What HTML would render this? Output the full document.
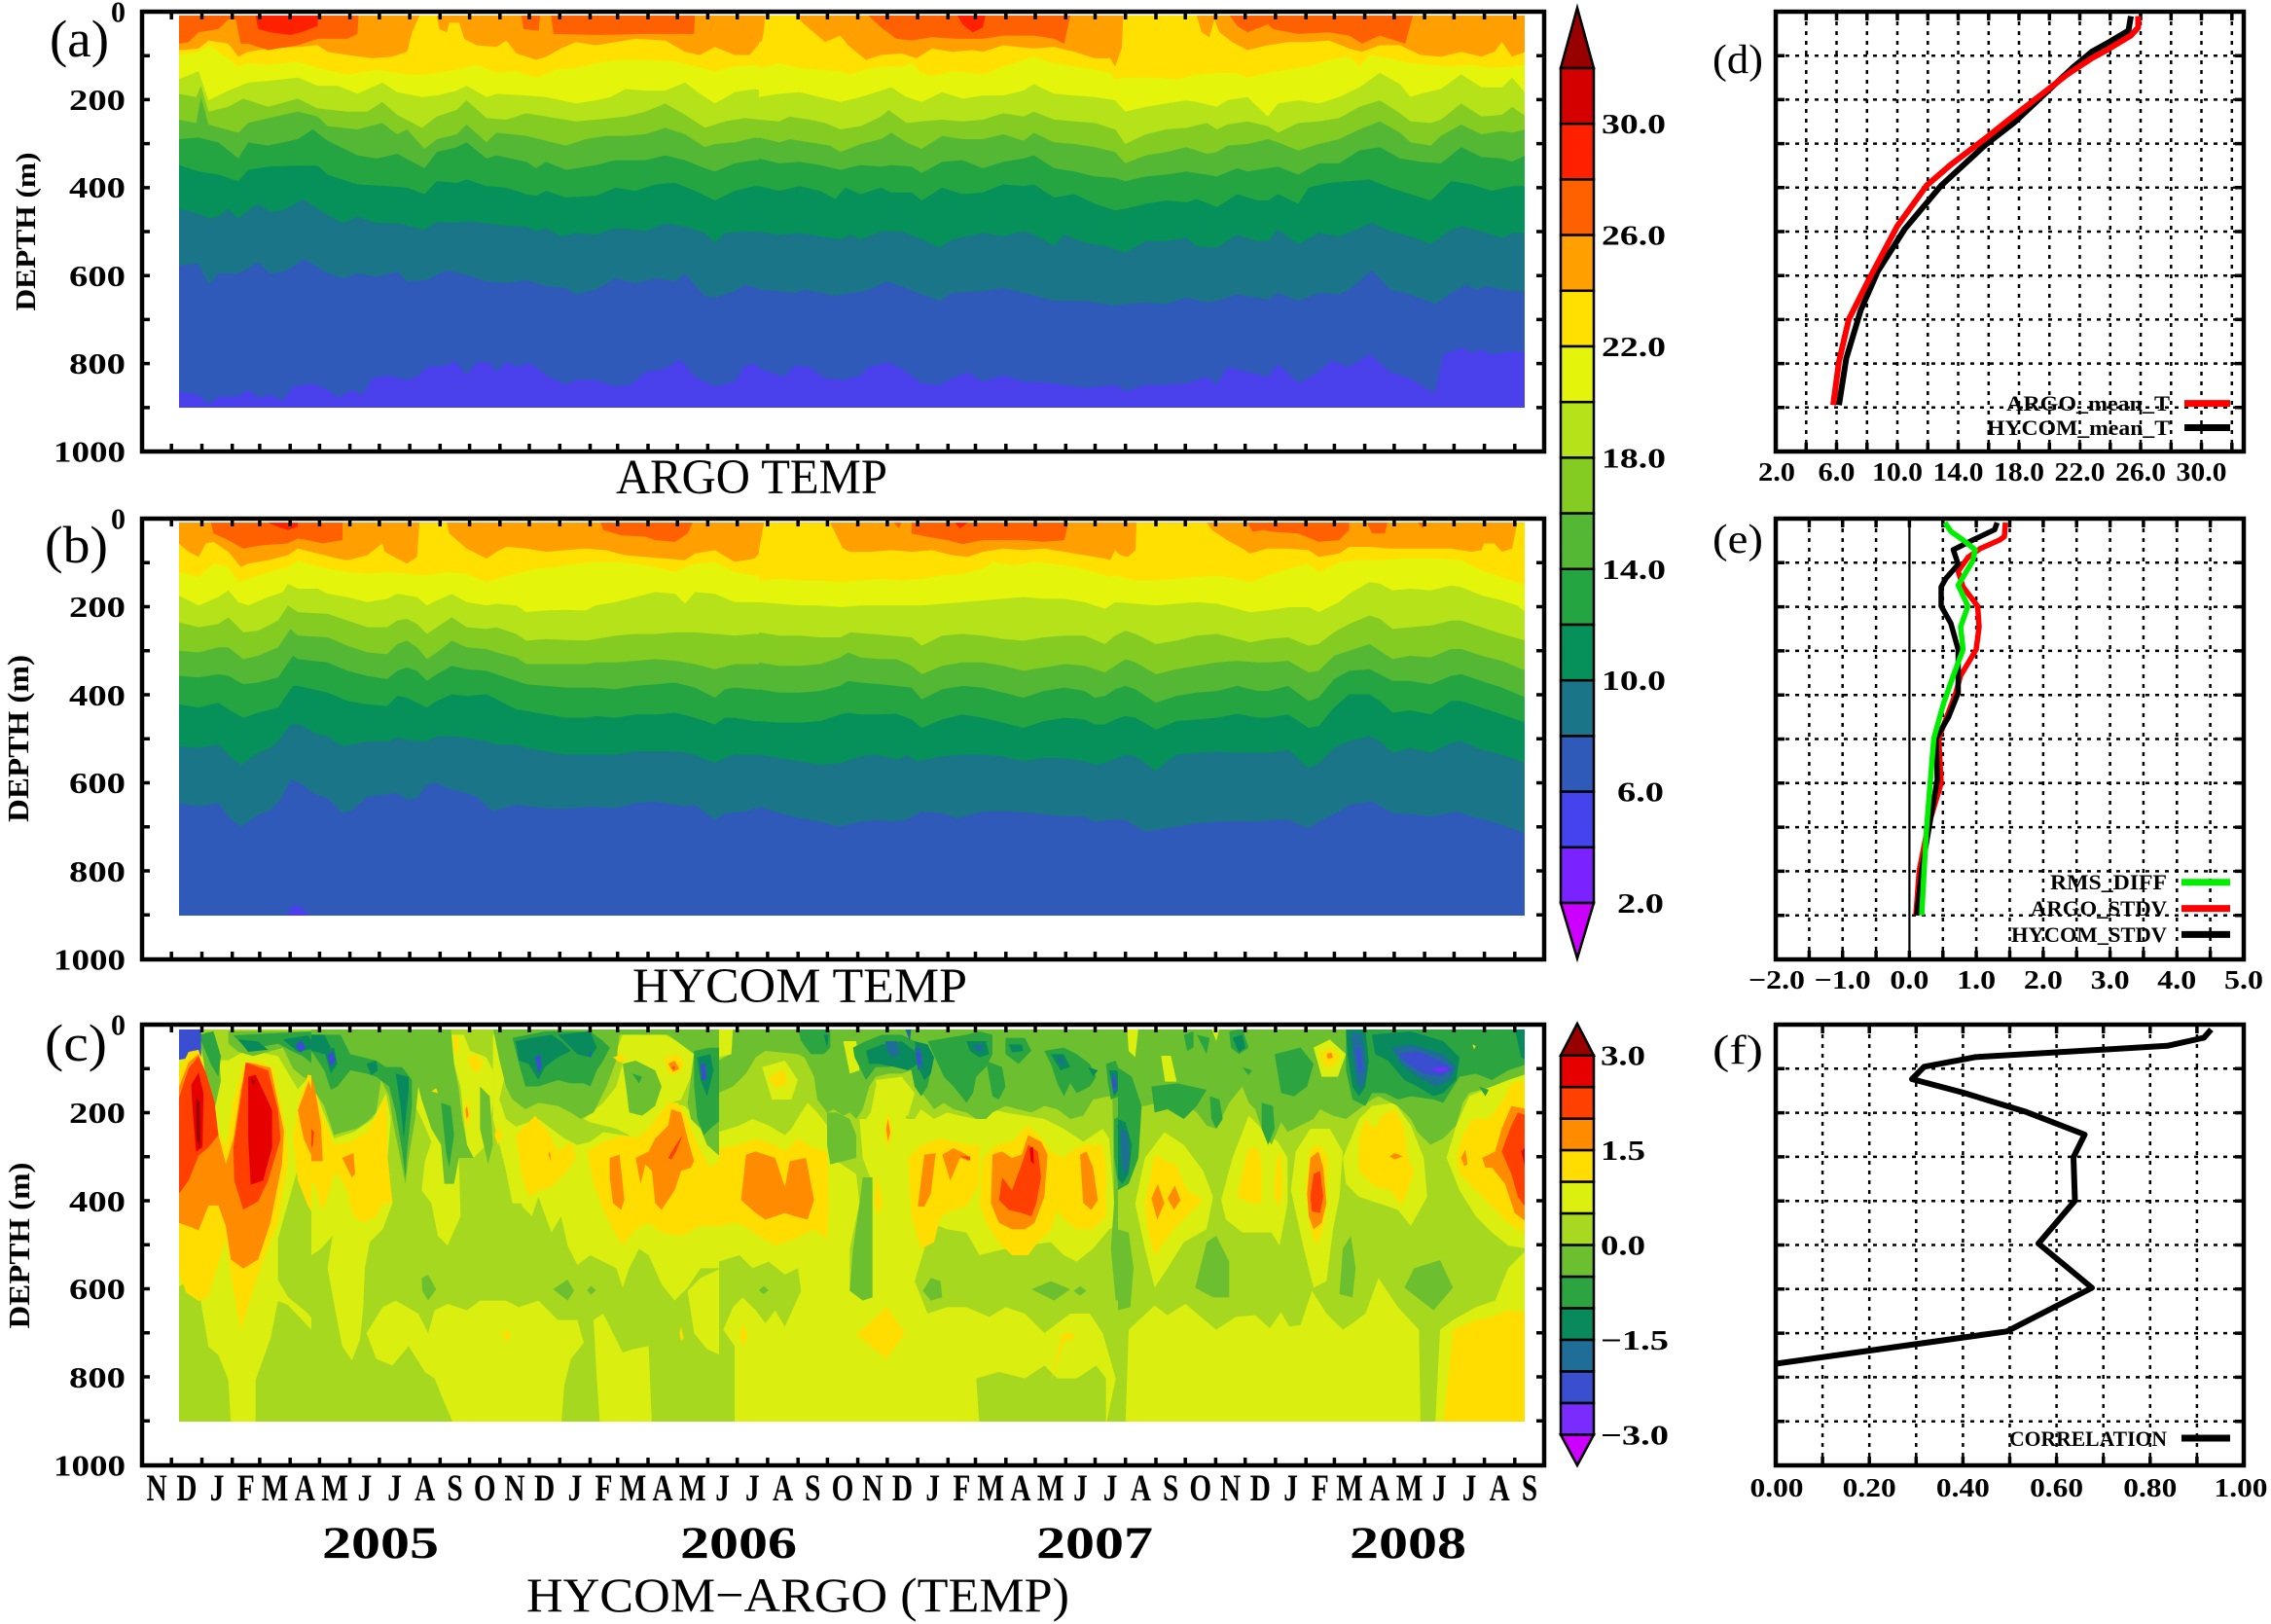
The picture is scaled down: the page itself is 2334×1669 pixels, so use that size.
<!DOCTYPE html>
<html><head><meta charset="utf-8"><style>html,body{margin:0;padding:0;background:#fff}svg{display:block}text{font-family:"Liberation Serif",serif}</style></head><body>
<svg xmlns="http://www.w3.org/2000/svg" xmlns:xlink="http://www.w3.org/1999/xlink" width="2334" height="1669" viewBox="0 0 2334 1669">
<defs>
<clipPath id="ca"><rect x="184" y="16" width="1383" height="403"/></clipPath>
<clipPath id="cb"><rect x="184" y="537" width="1383" height="404"/></clipPath>
<clipPath id="cc"><rect x="184" y="1058" width="1383" height="403"/></clipPath>
<clipPath id="cc2"><rect x="1149" y="1058" width="418" height="403"/></clipPath>
<clipPath id="cc3"><rect x="320" y="1058" width="421" height="403"/></clipPath>
<clipPath id="cc4"><rect x="739" y="1058" width="412" height="403"/></clipPath>
<path id="mt" d="M176.2 0v8M207.5 0v8M238.7 0v8M266.9 0v8M298.2 0v8M328.4 0v8M359.6 0v8M389.9 0v8M421.1 0v8M452.3 0v8M482.6 0v8M513.8 0v8M544 0v8M575.3 0v8M606.5 0v8M634.7 0v8M666 0v8M696.2 0v8M727.4 0v8M757.7 0v8M788.9 0v8M820.2 0v8M850.4 0v8M881.6 0v8M911.9 0v8M943.1 0v8M974.3 0v8M1002.5 0v8M1033.8 0v8M1064 0v8M1095.3 0v8M1125.5 0v8M1156.7 0v8M1188 0v8M1218.2 0v8M1249.4 0v8M1279.7 0v8M1310.9 0v8M1342.2 0v8M1371.4 0v8M1402.6 0v8M1432.9 0v8M1464.1 0v8M1494.4 0v8M1525.6 0v8M1556.8 0v8" stroke="#000" stroke-width="3.5" fill="none"/>
<path id="dt" d="M0 45.25h8M0 90.5h8M0 135.75h8M0 181h8M0 226.25h8M0 271.5h8M0 316.75h8M0 362h8M0 407.25h8" stroke="#000" stroke-width="3.5" fill="none"/>
</defs>
<rect width="2334" height="1669" fill="#fff"/>

<!-- ========== PANEL A ========== -->
<g clip-path="url(#ca)">
<rect x="184" y="16" width="1383" height="403" fill="#ffa000"/>
<g transform="matrix(0.5102 0 0 0.3325 0 0)">
<polygon fill="#ffe000" points="360,155 400,150 420,125 460,135 480,175 500,160 540,150 600,145 640,140 660,160 700,170 750,180 790,175 820,160 830,100 845,48 880,48 885,90 900,100 905,70 925,70 935,120 960,140 1000,145 1020,125 1040,165 1080,185 1100,175 1130,150 1160,130 1200,140 1240,130 1280,120 1340,125 1380,160 1410,170 1440,145 1480,170 1510,170 1535,125 1545,48 1568,48 1575,1270 355,1270"/>
<polygon fill="#e4f40a" points="360,170 400,160 420,140 460,180 480,205 500,195 540,200 600,190 640,210 700,230 760,215 820,230 860,230 920,215 960,200 1000,225 1040,220 1080,240 1120,215 1160,210 1200,195 1240,185 1300,185 1360,190 1400,205 1440,220 1480,205 1520,200 1568,220 1575,1270 355,1270"/>
<polygon fill="#b6e21a" points="360,245 400,220 420,310 460,280 500,255 540,250 600,240 640,265 680,265 720,290 770,255 800,285 850,300 880,295 920,280 940,265 980,300 1000,290 1060,295 1100,300 1160,320 1200,310 1230,300 1260,275 1300,280 1340,280 1380,255 1410,290 1440,320 1480,285 1520,275 1568,290 1575,1270 355,1270"/>
<polygon fill="#84cc22" points="360,290 395,300 405,265 420,345 460,330 490,305 540,330 600,305 640,335 700,345 740,345 770,315 800,355 850,395 880,360 920,340 940,310 980,365 1020,370 1060,350 1100,360 1160,375 1200,370 1260,360 1300,345 1340,320 1380,355 1420,395 1460,375 1500,365 1568,375 1575,1270 355,1270"/>
<polygon fill="#55b835" points="360,370 395,380 405,300 420,385 480,410 500,380 540,365 600,345 640,360 660,390 720,400 770,380 800,415 820,400 855,460 880,430 920,415 940,385 980,440 1000,410 1060,420 1100,435 1140,450 1180,430 1220,420 1260,420 1300,415 1340,395 1380,415 1420,455 1440,445 1480,440 1520,425 1568,435 1575,1270 355,1270"/>
<polygon fill="#25a542" points="360,430 400,425 440,440 480,490 500,440 540,450 600,430 630,400 660,435 720,480 760,490 800,475 855,520 880,470 920,455 940,440 980,490 1000,480 1060,500 1080,520 1100,500 1140,525 1200,510 1240,495 1300,495 1340,480 1380,495 1420,520 1440,530 1480,505 1520,495 1568,495 1575,1270 355,1270"/>
<polygon fill="#06905a" points="360,510 400,530 440,540 480,560 500,525 540,515 600,512 640,512 660,540 720,570 780,575 820,580 855,600 880,560 920,565 940,555 980,575 1020,580 1060,600 1080,605 1100,590 1140,610 1200,605 1240,580 1280,590 1320,570 1360,565 1400,590 1440,620 1480,590 1520,575 1568,580 1575,1270 355,1270"/>
<polygon fill="#1b7589" points="360,645 400,660 420,675 440,670 460,645 480,675 500,650 520,630 545,655 570,650 600,625 610,615 640,645 690,690 720,670 760,690 800,690 855,710 880,685 920,688 940,683 980,690 1020,698 1060,700 1080,715 1100,705 1130,730 1160,720 1200,725 1240,705 1280,710 1300,715 1340,690 1380,700 1420,720 1440,750 1460,720 1500,715 1568,720 1575,1270 355,1270"/>
<polygon fill="#2f5aba" points="360,820 400,815 420,880 440,845 480,845 500,830 520,810 545,845 570,840 600,815 610,800 640,825 660,845 690,860 720,845 760,855 800,840 820,870 860,865 900,835 940,850 980,870 1020,875 1060,865 1100,885 1140,890 1160,910 1200,895 1240,860 1280,875 1320,860 1360,870 1380,845 1420,915 1440,920 1480,900 1500,880 1540,895 1568,900 1575,1270 355,1270"/>
<polygon fill="#4a40ec" points="360,1210 400,1220 420,1250 440,1225 480,1225 500,1205 520,1230 545,1220 570,1240 590,1195 630,1185 660,1205 680,1230 710,1205 730,1220 750,1170 780,1160 820,1175 840,1165 860,1135 900,1130 915,1115 940,1160 960,1120 985,1120 1000,1150 1020,1120 1045,1135 1065,1120 1100,1160 1140,1190 1160,1175 1200,1175 1240,1195 1270,1190 1300,1150 1340,1140 1370,1110 1400,1165 1440,1195 1480,1180 1500,1130 1520,1125 1568,1160 1575,1270 355,1270"/>
<polygon fill="#ff6000" points="355,48 360,135 380,130 400,100 440,90 460,60 475,60 485,135 500,135 540,155 600,140 640,120 700,120 720,105 722,48"/>
<polygon fill="#ff6000" points="1050,48 1055,90 1085,95 1088,48"/>
<polygon fill="#ff6000" points="1110,48 1115,105 1200,108 1300,105 1398,105 1400,48"/>
<polygon fill="#ff2000" points="515,48 520,90 545,100 585,108 610,98 640,80 640,48"/>
</g>
<g transform="matrix(0.523 0 0 0.3325 780 0)">
<polygon fill="#ffe000" points="0,130 8,130 12,48 75,48 85,70 130,130 160,110 175,140 210,185 240,170 280,165 310,180 340,150 380,160 420,155 440,160 480,140 540,150 580,145 620,160 660,180 690,180 700,205 713,150 716,48 860,48 870,100 885,115 895,60 905,100 930,130 960,155 1000,140 1040,130 1080,130 1120,125 1160,150 1185,160 1220,140 1260,140 1300,170 1340,175 1380,160 1420,175 1445,160 1460,130 1480,175 1507,160 1520,1270 0,1270"/>
<polygon fill="#e4f40a" points="0,210 40,195 80,210 120,215 160,220 180,230 210,215 240,205 280,205 300,195 320,225 340,235 380,220 420,225 440,230 480,205 520,185 540,175 580,195 620,205 660,215 690,225 700,245 720,240 780,240 820,245 860,230 900,225 940,225 960,240 1000,225 1040,215 1080,205 1120,185 1160,175 1180,205 1200,170 1240,180 1280,195 1320,200 1360,205 1400,200 1440,210 1480,205 1507,200 1520,1270 0,1270"/>
<polygon fill="#b6e21a" points="0,300 40,290 80,285 120,300 160,315 200,300 240,280 260,270 290,300 320,315 360,285 400,305 440,295 480,295 520,280 540,260 580,290 620,295 660,300 700,310 720,345 760,330 800,320 840,310 860,315 900,330 920,310 960,300 1000,360 1020,320 1060,310 1100,320 1140,300 1180,270 1220,225 1260,260 1280,300 1300,290 1340,275 1380,230 1420,270 1460,270 1480,240 1507,290 1520,1270 0,1270"/>
<polygon fill="#84cc22" points="0,370 40,375 60,360 100,370 130,380 160,400 200,390 240,360 255,340 290,380 320,375 360,370 400,375 440,370 480,350 520,360 540,345 580,370 620,375 660,380 700,400 720,445 760,415 800,400 840,395 880,380 900,400 920,385 960,375 1000,390 1020,410 1060,380 1100,375 1140,365 1180,330 1220,310 1260,350 1280,375 1320,380 1340,370 1380,320 1420,360 1460,355 1480,330 1507,360 1520,1270 0,1270"/>
<polygon fill="#55b835" points="0,425 40,440 60,430 100,440 140,450 160,470 200,445 240,430 260,410 290,440 320,460 360,420 400,430 440,430 480,415 520,435 540,410 580,440 620,445 660,455 700,470 720,505 760,480 800,470 840,455 880,475 900,470 920,450 960,445 1000,430 1020,440 1060,465 1100,445 1140,430 1180,400 1220,375 1260,410 1280,440 1320,450 1340,420 1380,385 1420,415 1460,405 1480,410 1507,400 1520,1270 0,1270"/>
<polygon fill="#25a542" points="0,490 40,505 80,500 120,510 160,525 200,510 240,515 260,510 300,515 320,535 360,500 400,495 440,520 480,500 520,490 540,480 580,520 620,530 660,545 700,550 720,560 760,545 800,540 840,530 880,540 900,545 940,520 960,530 1000,520 1020,515 1060,540 1100,505 1140,505 1180,465 1220,455 1260,490 1300,500 1340,505 1380,455 1420,485 1460,490 1480,500 1507,480 1520,1270 0,1270"/>
<polygon fill="#06905a" points="0,575 40,590 80,575 120,590 150,615 170,580 200,600 240,580 260,595 300,595 320,620 360,580 400,600 440,595 480,570 520,575 540,570 580,610 620,600 660,630 700,650 720,645 760,630 800,620 840,625 860,615 900,640 940,600 980,620 1000,620 1020,600 1060,630 1080,580 1120,565 1160,560 1200,555 1240,580 1280,600 1320,620 1360,560 1400,570 1440,590 1480,575 1507,575 1520,1270 0,1270"/>
<polygon fill="#1b7589" points="0,715 40,725 80,720 120,730 160,740 180,725 200,740 240,715 280,715 320,740 355,765 380,740 440,720 480,730 520,715 540,725 580,760 600,725 640,750 680,760 720,780 760,745 800,745 840,735 860,762 900,765 940,725 980,745 1000,745 1020,710 1060,755 1100,720 1140,730 1180,705 1205,688 1240,715 1280,730 1320,755 1360,710 1380,700 1420,715 1460,735 1480,720 1507,720 1520,1270 0,1270"/>
<polygon fill="#2f5aba" points="0,895 40,900 70,905 90,895 120,905 150,915 180,905 210,900 250,870 280,885 320,910 355,930 380,905 440,900 480,890 520,905 580,930 640,930 700,945 720,940 760,935 800,940 840,920 880,935 900,930 940,910 1000,925 1020,905 1060,930 1100,905 1140,910 1160,895 1205,835 1240,895 1280,910 1330,940 1360,905 1390,880 1410,895 1430,885 1480,900 1507,900 1520,1270 0,1270"/>
<polygon fill="#4a40ec" points="0,1140 20,1150 50,1165 70,1130 100,1135 130,1170 170,1175 200,1160 215,1135 255,1120 280,1140 320,1185 355,1190 380,1170 410,1150 440,1180 480,1160 520,1180 580,1185 640,1200 700,1190 720,1210 760,1190 800,1190 840,1185 880,1165 900,1190 920,1135 960,1150 1000,1165 1020,1125 1060,1185 1100,1150 1125,1115 1160,1135 1200,1095 1240,1150 1280,1170 1320,1210 1330,1210 1345,1095 1380,1075 1400,1090 1420,1080 1440,1095 1480,1085 1507,1090 1520,1270 0,1270"/>
<polygon fill="#ff6000" points="215,48 240,85 270,120 300,125 340,115 390,120 440,120 480,110 540,110 580,120 600,135 612,48"/>
<polygon fill="#ff6000" points="925,48 940,80 960,100 1000,75 1010,90 1060,105 1120,100 1160,110 1185,135 1220,110 1270,135 1285,48"/>
<polygon fill="#ff2000" points="390,48 400,75 420,100 440,85 445,48"/>
</g>
</g>

<!-- ========== PANEL B ========== -->
<g clip-path="url(#cb)">
<rect x="184" y="537" width="1383" height="404" fill="#ffa000"/>
<g transform="matrix(0.5102 0 0 0.3444 0 500)">
<polygon fill="#ffe000" points="360,170 380,195 400,210 415,170 430,165 460,195 485,240 500,230 540,220 580,205 600,185 640,200 680,215 700,220 740,205 770,170 775,195 800,215 820,230 840,210 845,108 900,108 905,140 940,185 980,215 1000,195 1020,180 1060,185 1100,195 1140,190 1180,185 1220,190 1260,205 1300,210 1340,215 1380,220 1400,200 1440,190 1480,225 1520,215 1540,180 1545,108 1568,108 1575,1290 355,1290"/>
<polygon fill="#e4f40a" points="360,255 400,270 430,230 460,240 480,285 500,275 540,255 580,240 600,220 620,230 660,245 700,255 740,260 780,255 820,260 860,265 900,255 940,260 980,285 1000,275 1040,260 1080,245 1120,240 1160,230 1200,225 1240,225 1280,230 1320,240 1360,255 1380,240 1400,230 1440,225 1480,255 1520,265 1568,270 1575,1290 355,1290"/>
<polygon fill="#b6e21a" points="360,325 400,355 440,330 460,310 480,345 500,355 540,330 570,315 580,290 600,305 640,305 660,320 700,330 740,345 780,335 800,320 840,330 860,355 880,340 910,320 940,345 980,355 1000,350 1040,355 1060,375 1100,370 1140,368 1180,370 1200,355 1240,345 1280,330 1320,315 1360,320 1380,350 1400,315 1440,320 1480,345 1520,345 1568,350 1575,1290 355,1290"/>
<polygon fill="#84cc22" points="360,405 400,420 440,410 460,390 490,435 520,430 560,400 580,355 600,375 660,380 700,400 740,420 780,420 800,400 820,395 840,410 860,440 880,420 910,390 940,420 980,425 1000,420 1040,440 1060,460 1100,455 1140,458 1180,460 1200,455 1240,445 1280,440 1320,440 1360,435 1400,435 1440,440 1480,445 1520,440 1568,440 1575,1290 355,1290"/>
<polygon fill="#55b835" points="360,490 400,495 440,480 460,480 490,515 520,505 560,480 585,425 600,445 660,450 700,475 740,495 780,500 800,470 820,460 840,480 860,515 880,495 910,460 940,480 980,485 1000,495 1040,510 1060,530 1100,530 1140,530 1180,530 1200,525 1240,525 1280,520 1320,515 1360,520 1400,530 1440,545 1480,530 1520,530 1568,535 1575,1290 355,1290"/>
<polygon fill="#25a542" points="360,565 400,570 440,560 460,565 490,590 520,585 560,570 590,505 600,515 660,525 700,550 740,565 780,575 800,550 820,540 840,550 860,580 880,560 910,535 940,545 980,550 1000,560 1040,580 1060,590 1100,595 1140,600 1180,600 1200,600 1240,605 1280,595 1320,590 1360,585 1400,600 1440,630 1460,605 1480,600 1520,605 1568,615 1575,1290 355,1290"/>
<polygon fill="#06905a" points="360,650 400,660 440,645 460,665 490,690 520,675 560,660 590,595 600,595 660,615 700,640 740,650 780,655 800,625 820,630 840,645 860,660 880,640 910,620 940,625 980,620 1000,635 1040,665 1060,670 1100,680 1140,690 1180,690 1200,685 1240,690 1280,680 1320,680 1360,675 1400,690 1440,710 1460,690 1480,690 1520,700 1568,700 1575,1290 355,1290"/>
<polygon fill="#1b7589" points="360,775 400,780 440,770 460,800 485,830 520,795 545,780 560,760 585,710 605,710 640,740 660,745 690,775 740,760 780,760 800,750 840,760 860,760 880,745 910,745 940,750 980,760 1000,770 1040,770 1060,780 1100,790 1140,800 1180,800 1200,800 1240,800 1280,790 1320,790 1360,790 1400,800 1440,825 1460,810 1480,800 1520,800 1568,805 1575,1290 355,1290"/>
<polygon fill="#2f5aba" points="360,945 400,955 440,945 460,985 485,1015 520,980 545,965 565,935 585,875 605,885 630,915 660,930 690,975 710,965 740,925 770,920 800,915 820,935 840,930 860,890 880,885 900,900 940,915 960,925 990,965 1000,965 1040,950 1100,960 1140,962 1190,955 1240,960 1280,945 1320,940 1360,950 1380,955 1400,950 1440,995 1460,975 1500,970 1520,960 1568,965 1575,1290 355,1290"/>
<polygon fill="#4a40ec" points="575,1285 590,1250 605,1252 625,1285"/>
<polygon fill="#ff6000" points="425,108 430,140 460,160 490,185 530,175 580,170 600,155 620,160 650,170 690,160 690,108"/>
<polygon fill="#ff6000" points="1210,108 1215,130 1250,145 1300,150 1320,160 1360,165 1385,140 1395,108"/>
<polygon fill="#ff2000" points="540,108 560,120 580,130 600,120 600,108"/>
</g>
<g transform="matrix(0.523 0 0 0.3444 780 500)">
<polygon fill="#ffe000" points="0,190 10,108 140,108 165,185 180,195 220,195 260,190 300,195 340,190 380,205 410,210 440,195 480,185 520,190 560,185 600,195 640,205 680,215 690,220 700,190 710,205 725,210 740,190 742,108 880,108 890,130 920,160 950,185 965,200 1000,185 1040,185 1080,190 1100,210 1140,200 1160,180 1200,180 1240,185 1280,185 1320,185 1360,185 1400,195 1420,190 1425,170 1445,170 1460,195 1480,185 1490,108 1520,108 1520,1290 0,1290"/>
<polygon fill="#e4f40a" points="0,280 40,275 80,280 120,280 160,285 200,280 240,275 280,280 320,275 360,265 400,260 440,245 460,225 500,235 540,225 580,230 620,240 660,255 690,270 700,265 740,280 780,280 820,275 860,270 900,265 940,275 965,285 1000,265 1040,245 1080,230 1100,255 1140,225 1180,220 1220,220 1260,215 1300,215 1340,215 1380,220 1420,250 1460,270 1507,295 1520,1290 0,1290"/>
<polygon fill="#b6e21a" points="0,345 40,350 80,355 120,355 160,360 200,355 240,355 280,355 320,355 360,350 400,345 440,340 480,335 520,330 560,335 600,335 640,345 680,365 700,345 740,350 780,355 820,350 860,345 900,350 940,365 965,375 1000,370 1040,360 1080,360 1100,375 1140,345 1160,320 1200,285 1220,290 1245,310 1280,305 1320,310 1360,295 1380,300 1420,325 1460,340 1490,355 1507,375 1520,1290 0,1290"/>
<polygon fill="#84cc22" points="0,435 40,445 80,445 120,450 160,450 180,435 220,440 260,445 300,450 320,475 360,445 400,440 440,445 480,455 520,460 560,450 600,445 640,445 680,470 700,445 720,430 740,440 780,470 820,460 860,445 900,440 940,455 965,465 1000,455 1040,450 1080,475 1100,470 1130,435 1160,410 1200,385 1220,395 1245,425 1280,420 1320,415 1360,400 1380,400 1420,420 1460,440 1507,460 1520,1290 0,1290"/>
<polygon fill="#55b835" points="0,525 40,535 80,535 120,530 160,510 175,495 200,510 240,515 270,515 300,535 320,560 360,535 400,525 440,525 480,535 520,550 560,540 600,530 640,535 680,555 700,535 720,515 740,525 780,560 820,545 860,535 900,525 940,520 980,525 1000,525 1040,520 1080,555 1100,550 1130,505 1160,490 1200,470 1220,490 1245,515 1280,505 1320,510 1360,485 1380,485 1420,505 1460,520 1507,550 1520,1290 0,1290"/>
<polygon fill="#25a542" points="0,605 40,615 80,615 120,610 160,595 175,580 200,585 240,590 270,595 300,600 320,635 360,605 400,595 440,600 480,615 520,630 560,610 600,600 640,610 660,630 680,625 700,605 720,595 740,605 780,645 820,625 860,615 900,610 940,595 980,610 1000,610 1040,595 1080,640 1100,630 1130,575 1160,550 1200,545 1220,560 1245,580 1280,580 1320,590 1360,565 1380,560 1420,580 1460,600 1507,630 1520,1290 0,1290"/>
<polygon fill="#06905a" points="0,700 40,705 80,705 120,700 160,680 175,675 200,680 240,680 270,678 300,695 320,720 360,695 400,680 440,690 480,705 520,720 560,700 600,690 640,695 660,710 680,710 700,695 720,685 740,690 780,725 820,700 860,695 900,690 940,678 980,690 1000,690 1040,680 1080,720 1100,715 1130,660 1160,620 1200,620 1220,640 1245,675 1280,668 1320,680 1360,640 1380,640 1420,660 1460,680 1507,705 1520,1290 0,1290"/>
<polygon fill="#1b7589" points="0,800 40,810 80,820 120,830 160,825 200,805 230,800 260,810 275,815 290,800 310,820 360,805 400,800 440,800 480,805 520,820 560,810 600,810 640,820 660,830 680,825 720,800 740,805 780,848 820,800 860,795 900,790 940,795 980,795 1000,795 1040,785 1080,840 1100,825 1130,780 1160,760 1200,745 1220,760 1245,795 1280,780 1320,795 1360,765 1380,760 1420,785 1460,800 1507,825 1520,1290 0,1290"/>
<polygon fill="#2f5aba" points="0,955 40,975 80,990 120,1000 155,1015 200,1000 230,995 260,1000 290,995 320,970 360,975 390,990 440,970 480,968 540,975 580,982 640,985 660,1000 690,995 720,995 760,1030 800,1020 860,1005 900,1000 940,998 980,1000 1020,993 1040,995 1080,1020 1100,1000 1140,970 1160,950 1205,940 1245,975 1280,978 1320,985 1370,970 1400,985 1440,1000 1507,1035 1520,1290 0,1290"/>
<polygon fill="#ff6000" points="300,108 300,140 330,150 370,160 400,172 440,160 480,160 520,160 560,165 600,160 608,108"/>
<polygon fill="#ff6000" points="265,108 275,125 280,108"/>
<polygon fill="#ff6000" points="960,108 970,135 990,130 1010,135 1060,140 1100,165 1140,160 1160,130 1160,108"/>
<polygon fill="#ff6000" points="1195,108 1205,140 1230,140 1235,108"/>
<polygon fill="#ff6000" points="1295,108 1305,125 1310,108"/>
<polygon fill="#ff2000" points="385,108 395,125 410,108"/>
</g>
</g>

<!-- ========== PANEL C ========== -->
<g clip-path="url(#cc)">
<rect x="184" y="1058" width="1383" height="403" fill="#daee10"/>
<g transform="matrix(0.5102 0 0 0.4266 0 1000)">
<g fill="#a6d820">
<polygon points="360,135 1568,135 1568,320 1520,300 1490,330 1460,420 1420,400 1400,300 1360,230 1320,300 1280,300 1250,420 1220,430 1200,500 1170,620 1140,560 1130,450 1110,420 1080,380 1040,400 1010,300 1000,450 985,560 970,620 940,560 920,600 890,620 870,560 850,620 820,600 800,560 790,450 780,300 760,270 730,330 700,420 680,380 660,280 630,240 600,280 580,240 560,200 520,190 490,190 460,210 430,210 420,200 400,180 380,170 360,175"/>
<polygon points="560,640 600,470 630,560 660,480 690,560 740,600 780,540 860,600 940,600 1000,520 1040,600 1100,560 1130,450 1160,620 1200,640 1240,690 1280,620 1320,630 1380,600 1420,560 1460,580 1500,590 1568,600 1568,800 1520,760 1480,900 1440,820 1400,860 1360,850 1300,810 1240,780 1200,820 1140,840 1100,780 1060,780 1000,790 960,760 900,800 860,800 820,820 800,850 770,860 760,920 720,930 690,880 660,880 620,820 580,780 560,740"/>
<polygon points="355,760 380,740 400,760 420,900 440,920 460,980 465,1085 355,1085"/>
<polygon points="515,1085 515,980 545,880 560,790 580,800 620,850 660,900 690,930 710,940 740,950 760,930 780,980 820,990 860,970 900,1030 940,1085"/>
</g>
<g fill="#6cc030">
<polygon points="400,150 420,140 440,190 445,260 430,340 420,300 410,210"/>
<polygon points="460,140 700,140 700,180 660,250 640,270 610,250 590,230 570,180 540,190 510,200 480,190 460,170"/>
<polygon points="640,140 860,140 850,200 830,300 820,430 800,350 780,260 740,250 700,300 690,350 670,270 650,230"/>
</g>
<g fill="#2ca540">
<polygon points="400,150 430,140 445,200 440,250 425,220"/>
<polygon points="470,150 640,140 660,200 640,230 610,200 590,190 560,170 520,180 490,175"/>
</g>
<g fill="#088a5c">
<polygon points="570,160 620,150 640,180 600,190"/>
<polygon points="480,160 520,165 540,185 500,190"/>
</g>
<g fill="#3a4ed0">
<polygon points="355,135 405,135 405,200 355,210"/>
<polygon points="595,175 605,162 617,180 605,192"/>
</g>
<g fill="#ffdd00">
<polygon points="355,250 380,190 400,185 420,260 440,380 455,420 470,310 490,220 520,210 550,230 575,370 580,450 560,600 530,690 500,800 485,860 470,760 455,640 440,700 420,780 400,790 375,770 355,700"/>
<polygon points="590,400 600,320 620,245 645,250 660,400 655,520 640,600 620,560 600,500"/>
</g>
<g fill="#ff8c00">
<polygon points="355,290 380,215 400,195 420,270 440,390 455,460 470,400 485,280 500,215 545,228 572,380 568,460 545,600 520,690 490,712 465,690 455,610 440,560 420,560 400,620 380,610 355,600"/>
<polygon points="600,330 622,260 640,330 650,450 632,452 612,400"/>
</g>
<g fill="#ff4000">
<polygon points="355,320 380,230 400,200 415,240 432,310 440,390 420,420 400,440 380,500 355,540"/>
<polygon points="470,420 485,300 495,215 540,235 560,330 565,400 540,500 520,550 490,570 472,500"/>
</g>
<g fill="#e60000">
<polygon points="385,270 400,240 410,290 408,420 395,430 388,330"/>
<polygon points="500,250 515,245 548,330 548,420 530,500 505,510 500,400"/>
</g>
<g fill="#990000">
<polygon points="395,300 402,310 403,420 396,400"/>
<polygon points="505,255 515,260 510,270"/>
</g>
</g>
</g>

<!-- overlay (c) x 320-740 -->
<g clip-path="url(#cc3)">
<g transform="matrix(0.33333 0 0 0.33333 320 1050)">
<rect x="0" y="20" width="1265" height="1225" fill="#a6d820"/>
<g fill="#daee10">
<polygon points="0,180 30,260 70,360 130,340 190,300 230,220 245,300 235,420 250,560 220,640 180,680 165,760 160,880 150,980 125,1045 95,1000 70,870 50,760 65,660 30,700 0,720"/>
<polygon points="330,180 370,160 400,170 430,200 440,260 430,340 455,420 460,600 420,690 390,660 370,560 340,520 350,430 370,370 340,300 320,260"/>
<polygon points="430,40 470,40 490,90 540,110 560,150 560,250 540,380 500,420 480,380 470,300 460,200 440,130"/>
<polygon points="560,40 620,40 600,150 580,240 600,300 640,330 650,500 660,560 620,560 600,460 580,380 560,300"/>
<polygon points="960,40 1090,40 1180,90 1170,170 1140,240 1110,250 1080,290 1060,330 1040,360 1000,370 980,350 940,330 900,320 860,310 840,300 900,250 940,200 960,130 940,90"/>
<polygon points="600,340 640,320 700,300 740,330 780,360 820,380 860,370 900,340 960,350 1040,360 1100,250 1150,260 1190,300 1220,380 1265,420 1265,760 1200,760 1160,820 1120,860 1080,810 1040,720 1010,700 980,760 960,820 940,760 900,740 860,720 820,750 790,690 770,600 740,650 700,540 680,600 650,570"/>
<polygon points="170,960 220,880 260,860 330,900 360,960 380,890 420,870 480,890 520,860 600,860 640,880 700,860 760,920 820,920 840,990 800,1040 780,1120 770,1245 440,1245 400,1150 380,1100 350,1080 300,1000 250,1060 200,1040"/>
<polygon points="870,920 900,900 930,960 960,1020 990,1010 1040,1000 1050,1245 890,1245 880,1100"/>
<polygon points="1160,830 1200,790 1265,760 1265,1030 1220,1010 1180,960"/>
</g>
<g fill="#6cc030">
<polygon points="0,20 430,20 440,130 455,210 465,300 480,380 500,420 455,420 440,500 410,500 400,380 370,330 340,240 330,200 320,300 300,420 290,500 270,400 250,300 240,230 215,180 200,280 170,310 140,330 100,340 70,350 40,260 0,200"/>
<polygon points="560,20 1265,20 1265,420 1220,380 1200,330 1170,300 1160,250 1180,100 1100,40 950,40 940,120 910,200 870,280 830,300 800,280 760,260 700,250 660,270 620,240 600,200 580,120"/>
<polygon points="520,200 550,230 560,380 545,440 520,330"/>
<polygon points="960,130 1000,120 1060,150 1080,200 1060,260 1020,290 980,280 970,200"/>
<polygon points="340,790 360,780 385,825 360,860 342,830"/>
<polygon points="745,825 790,795 810,830 790,860"/>
<polygon points="850,828 862,815 878,828 862,842"/>
</g>
<g fill="#2ca540">
<polygon points="0,40 90,40 120,100 160,110 200,120 230,140 280,140 310,180 310,260 295,400 290,480 280,400 260,280 240,200 200,170 170,160 120,150 80,200 60,210 40,150 0,90"/>
<polygon points="620,50 720,30 780,30 860,30 900,60 920,80 900,120 880,150 860,200 840,190 800,190 760,180 700,200 660,200 640,130"/>
<polygon points="1180,90 1230,80 1265,80 1265,300 1230,330 1210,350 1190,300 1180,200"/>
<polygon points="400,250 430,260 440,350 425,450 415,400"/>
<polygon points="990,160 1020,170 1010,190"/>
</g>
<g fill="#088a5c">
<polygon points="0,40 40,40 60,80 40,100 0,90"/>
<polygon points="40,90 70,80 80,130 60,160"/>
<polygon points="260,160 300,170 300,210 285,360 275,260"/>
<polygon points="630,60 680,50 740,40 770,60 800,90 760,110 720,140 700,180 670,130 640,120"/>
<polygon points="760,40 860,30 880,80 860,110 820,100"/>
<polygon points="1190,110 1230,100 1240,150 1220,230 1200,180"/>
<polygon points="170,130 200,120 205,150 185,165"/>
</g>
<g fill="#3a4ed0">
<polygon points="50,105 65,90 75,120 60,140"/>
<polygon points="690,110 705,100 710,140 700,160"/>
<polygon points="855,95 862,95 862,115"/>
<polygon points="1200,130 1215,130 1218,180 1205,180"/>
</g>
<g fill="#ffdd00">
<polygon points="0,180 20,240 40,300 70,380 120,370 170,340 200,290 230,230 235,420 250,560 220,560 200,600 160,620 130,600 110,520 90,480 70,470 45,560 30,580 10,500 0,500"/>
<polygon points="440,40 455,50 450,100 440,90"/>
<polygon points="480,110 510,100 530,130 510,160 490,140"/>
<polygon points="470,280 480,240 492,290 480,330"/>
<polygon points="565,350 575,320 590,350 575,380"/>
<polygon points="630,350 690,290 730,340 760,400 800,370 815,420 780,470 740,510 700,520 670,540 650,480"/>
<polygon points="850,400 900,370 960,350 1000,360 1040,330 1100,250 1130,250 1160,300 1190,380 1230,450 1265,420 1265,630 1200,630 1140,660 1080,650 1040,620 1000,640 960,690 930,640 900,580 870,500"/>
<polygon points="1090,110 1130,100 1150,130 1130,160 1100,160"/>
<polygon points="590,960 605,950 615,975 600,985"/>
<polygon points="1135,960 1140,940 1148,975 1140,985"/>
<polygon points="370,215 385,205 390,220"/>
<polygon points="930,110 960,100 970,120 950,125"/>
</g>
<g fill="#ff8c00">
<polygon points="0,170 10,200 30,320 35,430 0,430"/>
<polygon points="95,420 130,405 135,470 125,480"/>
<polygon points="920,420 950,410 960,500 965,550 955,580 930,560 920,480"/>
<polygon points="1000,420 1040,400 1060,360 1100,320 1110,270 1140,280 1160,360 1180,430 1170,450 1140,460 1120,520 1080,580 1060,560 1050,460 1030,440 1015,500"/>
<polygon points="1100,130 1120,120 1135,145 1115,155"/>
<polygon points="475,270 480,260 485,290 478,300"/>
<polygon points="730,410 735,400 740,430"/>
</g>
<g fill="#ff4000">
<polygon points="0,330 8,340 5,380 0,390"/>
<polygon points="1100,420 1130,370 1145,350 1125,400 1110,425"/>
<polygon points="1110,140 1120,138 1120,150"/>
</g>
</g>
</g>

<!-- overlay (c) x 740-1150 -->
<g clip-path="url(#cc4)">
<g transform="matrix(0.33333 0 0 0.33333 740 1050)">
<rect x="-5" y="20" width="1270" height="1225" fill="#daee10"/>
<g fill="#a6d820">
<polygon points="-5,20 1265,20 1265,640 1215,560 1200,360 1180,330 1120,370 1060,330 1000,300 940,290 880,280 840,270 790,300 740,290 700,280 660,300 620,270 600,300 575,300 560,250 520,200 480,200 465,280 450,300 430,300 440,420 470,500 470,850 400,830 400,700 430,560 420,470 360,430 330,320 300,280 270,250 250,280 220,330 200,350 150,320 100,300 60,320 30,330 -5,340"/>
<polygon points="-5,740 60,720 100,760 150,740 200,780 240,760 250,830 200,940 170,890 140,930 110,890 70,850 40,880 10,950 45,1000 45,1245 -5,1245"/>
<polygon points="600,800 630,700 650,620 700,640 760,650 800,720 880,700 940,690 1020,680 1060,720 1100,740 1150,700 1200,640 1265,600 1265,1245 1190,1245 1220,1100 1180,960 1140,900 1080,900 1000,960 940,900 880,880 830,910 760,880 700,880 640,900"/>
<polygon points="800,1245 790,1100 860,1080 940,1100 1000,1060 1040,1100 1100,1100 1160,1060 1190,1100 1190,1245"/>
</g>
<g fill="#6cc030">
<polygon points="40,20 1265,20 1265,250 1200,230 1150,240 1120,290 1080,300 1040,270 1000,260 960,280 920,270 880,260 840,280 820,300 790,300 760,280 720,270 690,250 660,270 630,230 600,200 590,150 560,160 520,160 480,170 460,200 440,270 420,300 400,280 380,290 350,270 330,280 300,240 290,170 260,110 240,100 140,90 110,110 80,160 40,200 -5,220 -5,120 30,100"/>
<polygon points="330,280 360,280 400,300 420,350 420,420 380,430 340,440 330,380"/>
<polygon points="400,830 410,700 430,560 440,480 470,480 470,850 440,860"/>
<polygon points="1210,240 1265,200 1265,850 1220,860 1205,700 1215,560"/>
<polygon points="625,830 650,790 680,800 685,850 650,860"/>
<polygon points="960,825 1020,800 1080,825 1030,860"/>
<polygon points="1090,830 1110,815 1130,830 1110,845"/>
<polygon points="120,828 135,815 150,828 135,840"/>
</g>
<g fill="#daee10">
<polygon points="-5,20 40,20 35,100 -5,110"/>
<polygon points="130,140 200,120 240,180 220,240 160,240"/>
<polygon points="380,60 420,60 430,150 400,160"/>
<polygon points="480,180 560,170 600,220 580,290 520,290 490,260"/>
</g>
<g fill="#2ca540">
<polygon points="240,20 340,20 340,80 320,100 280,100 250,60"/>
<polygon points="410,80 450,60 500,40 560,40 600,60 640,90 650,150 640,200 620,230 600,200 590,150 560,130 520,140 480,140 450,180 430,140 415,110"/>
<polygon points="640,60 700,50 760,40 800,30 840,40 840,100 820,140 790,170 780,220 760,250 720,200 690,170"/>
<polygon points="820,120 870,140 880,200 860,240 840,230"/>
<polygon points="880,50 940,50 960,90 920,130 880,100"/>
<polygon points="1000,90 1060,80 1100,100 1140,130 1160,170 1140,200 1100,220 1080,190 1060,230 1040,190 1020,130"/>
<polygon points="1190,130 1220,120 1240,180 1230,230 1205,240 1195,180"/>
<polygon points="1215,300 1250,280 1265,300 1265,520 1230,520 1215,420"/>
</g>
<g fill="#088a5c">
<polygon points="450,90 500,70 560,60 600,90 610,130 580,150 540,140 490,130 460,130"/>
<polygon points="600,60 640,70 660,110 650,160 630,180 610,140"/>
<polygon points="760,60 820,60 830,100 800,110 770,90"/>
<polygon points="890,70 930,70 935,90 900,95"/>
<polygon points="1020,100 1060,100 1080,140 1050,150"/>
<polygon points="1135,140 1165,150 1150,170"/>
<polygon points="1200,150 1225,150 1235,200 1215,230"/>
<polygon points="1225,320 1255,310 1265,470 1240,450"/>
<polygon points="320,40 335,40 330,80"/>
</g>
<g fill="#1f6e98">
<polygon points="510,60 545,60 555,100 530,110 515,90"/>
<polygon points="570,20 590,20 585,60"/>
<polygon points="600,80 620,80 625,140 610,150"/>
<polygon points="785,70 810,70 810,90 790,90"/>
<polygon points="1040,110 1060,115 1055,140"/>
<polygon points="1205,160 1222,165 1225,215 1212,220"/>
<polygon points="1240,340 1258,340 1258,450 1245,440"/>
</g>
<g fill="#3a4ed0">
<polygon points="605,95 618,95 620,130 610,135"/>
<polygon points="1208,175 1220,178 1220,205 1212,208"/>
</g>
<g fill="#ffdd00">
<polygon points="-5,390 60,380 110,360 170,380 200,400 240,360 290,390 330,400 335,560 330,670 290,640 230,670 170,690 120,660 60,620 -5,630"/>
<polygon points="150,175 195,145 210,190 170,205"/>
<polygon points="475,560 485,470 500,560 490,600"/>
<polygon points="505,340 518,280 530,340 518,390"/>
<polygon points="580,420 620,380 650,370 680,360 720,370 760,380 800,380 800,500 760,570 720,580 680,600 660,680 620,700 590,600"/>
<polygon points="810,420 850,380 900,370 950,320 990,360 1020,400 1060,420 1080,400 1120,380 1180,380 1190,450 1190,600 1150,640 1100,640 1060,610 1040,580 1020,640 980,680 950,720 900,720 860,680 820,620 800,560"/>
<polygon points="420,965 515,880 570,960 515,1040"/>
<polygon points="60,965 72,935 85,965 72,1000"/>
<polygon points="1020,1110 1055,960 1090,960 1090,980 1060,985"/>
</g>
<g fill="#ff8c00">
<polygon points="65,550 80,410 110,400 170,420 200,510 215,430 265,420 290,550 270,610 230,600 200,590 140,610 110,590"/>
<polygon points="610,570 630,410 665,405 650,530 630,570"/>
<polygon points="685,410 720,390 760,410 770,430 740,420 710,490"/>
<polygon points="835,560 840,410 870,400 900,420 930,410 950,350 990,370 1010,410 1000,540 970,620 940,640 900,640 860,620"/>
<polygon points="1110,410 1130,400 1150,450 1165,550 1145,580 1120,560"/>
<polygon points="512,330 518,300 525,340 518,370"/>
</g>
<g fill="#ff4000">
<polygon points="860,550 870,480 900,520 930,440 950,380 980,400 990,480 975,560 960,600 930,590 890,580"/>
<polygon points="740,415 770,415 772,428"/>
</g>
<polygon fill="#e60000" points="955,390 965,385 968,440 958,430"/>
</g>
</g>

<!-- overlay (c) x >= 1150 -->
<g clip-path="url(#cc2)">
<g transform="matrix(0.33333 0 0 0.33333 1150 1050)">
<rect x="-5" y="20" width="1265" height="1225" fill="#a6d820"/>
<g fill="#daee10">
<polygon points="20,1245 30,950 110,875 150,905 205,870 300,950 360,910 420,905 465,945 500,895 525,940 560,935 595,830 640,900 690,950 720,930 760,900 800,790 860,880 925,950 930,1245"/>
<polygon points="975,1245 990,950 1030,920 1100,880 1160,860 1200,760 1260,700 1260,1245"/>
<polygon points="50,560 80,420 140,340 200,380 260,460 290,540 270,640 200,680 150,760 110,820 80,700"/>
<polygon points="315,550 350,420 400,290 440,330 490,370 520,420 520,560 495,690 470,650 380,650 330,610"/>
<polygon points="530,520 545,400 590,330 650,330 690,400 680,540 660,640 640,800 600,820 570,700"/>
<polygon points="690,420 740,300 780,260 850,250 900,320 940,420 950,540 900,630 860,580 800,560 740,540 700,500"/>
<polygon points="1010,420 1040,320 1080,230 1150,200 1210,170 1260,160 1260,700 1200,690 1150,650 1100,600 1050,520"/>
</g>
<g fill="#6cc030">
<polygon points="-5,20 1260,20 1260,160 1200,180 1150,200 1080,220 1060,250 1040,320 1000,360 960,380 920,340 900,300 860,260 800,230 780,240 740,270 700,300 660,290 620,270 600,300 560,320 520,340 500,310 470,380 440,330 420,270 400,250 380,200 340,250 300,330 270,320 240,280 200,250 160,240 120,250 80,260 60,260 40,300 20,400 -5,420"/>
<polygon points="-5,640 30,650 45,760 35,880 -5,890"/>
<polygon points="235,820 270,680 300,660 340,740 340,850 290,850"/>
<polygon points="680,840 690,700 715,660 730,760 720,850"/>
<polygon points="880,820 910,760 990,735 1030,820 970,890"/>
</g>
<g fill="#daee10">
<polygon points="25,20 60,20 50,110 30,90"/>
<polygon points="130,105 160,105 178,185 142,185"/>
<polygon points="600,80 650,55 700,100 675,170 625,170"/>
<polygon points="285,20 310,20 300,60"/>
</g>
<g fill="#2ca540">
<polygon points="100,200 180,190 270,210 240,260 200,300 150,270 110,280"/>
<polygon points="-5,140 40,170 70,260 60,420 30,500 -5,520"/>
<polygon points="480,100 560,80 600,130 580,200 540,230 500,220"/>
<polygon points="440,250 475,260 480,330 460,380 440,330"/>
<polygon points="280,230 310,240 320,300 300,330 285,300"/>
<polygon points="200,40 230,30 230,80 210,90"/>
<polygon points="240,40 280,50 270,100"/>
<polygon points="700,20 1260,20 1260,130 1200,150 1150,180 1100,160 1050,170 1000,250 970,240 900,230 860,240 820,220 780,220 760,260 720,240 700,150"/>
<polygon points="340,30 380,20 400,80 370,100 345,80"/>
<polygon points="380,140 410,150 400,165"/>
<polygon points="1070,140 1100,130 1120,150 1100,160"/>
<polygon points="1110,200 1140,210 1130,230"/>
</g>
<g fill="#088a5c">
<polygon points="700,20 760,20 770,120 760,200 740,230 720,200 705,100"/>
<polygon points="780,40 900,30 1000,60 1050,110 1040,180 1000,220 970,230 920,200 880,180 830,120 790,100"/>
<polygon points="-5,300 20,310 40,380 30,470 10,500 -5,480"/>
<polygon points="1220,20 1260,20 1260,120 1240,110"/>
<polygon points="350,50 380,40 390,80 370,95"/>
</g>
<g fill="#1f6e98">
<polygon points="715,30 750,40 765,150 750,210 735,190 720,100"/>
<polygon points="840,80 900,70 1000,100 1040,140 1020,180 980,200 920,170 870,130"/>
<polygon points="5,330 25,340 32,420 20,480 10,440"/>
</g>
<g fill="#3a4ed0">
<polygon points="730,80 745,80 752,150 740,160"/>
<polygon points="860,100 920,90 990,120 1030,145 990,170 940,160 890,130"/>
</g>
<polygon fill="#7a2cff" points="960,145 1000,140 1020,150 990,155"/>
<g fill="#ffdd00">
<polygon points="80,560 110,410 145,430 175,440 210,520 260,550 220,590 170,640 140,680 110,720 90,650"/>
<polygon points="365,540 380,470 400,390 430,390 440,440 440,560 410,560"/>
<polygon points="478,540 485,430 500,400 505,520 495,570"/>
<polygon points="575,520 590,390 620,380 645,420 640,560 630,640 610,690 590,640"/>
<polygon points="740,360 760,300 790,330 810,290 850,270 880,330 890,420 910,460 890,520 870,570 840,520 790,510 740,460"/>
<polygon points="1040,420 1060,350 1090,300 1140,300 1180,250 1210,190 1260,180 1260,660 1200,620 1170,590 1140,560 1110,530 1080,500 1050,470"/>
<polygon points="620,100 650,80 680,105 660,140 635,140"/>
<polygon points="1000,1245 1030,950 1100,920 1150,910 1200,890 1260,895 1260,1245"/>
<polygon points="1090,70 1100,75 1095,85"/>
</g>
<g fill="#ff8c00">
<polygon points="100,545 120,500 140,560 118,610"/>
<polygon points="150,545 172,505 190,550 170,580"/>
<polygon points="580,530 590,420 615,400 630,450 640,560 625,620 600,640 585,600"/>
<polygon points="835,415 850,405 875,415 850,425"/>
<polygon points="1055,420 1068,395 1075,440 1065,445"/>
<polygon points="1120,420 1160,400 1180,330 1210,260 1260,270 1260,620 1220,590 1190,500 1150,450 1130,450"/>
<polygon points="640,100 655,95 660,110 645,115"/>
</g>
<g fill="#ff4000">
<polygon points="590,540 600,470 620,460 630,540 620,590 595,585"/>
<polygon points="1180,400 1210,320 1230,280 1260,290 1260,580 1230,540 1210,470"/>
</g>
<polygon fill="#e60000" points="1240,400 1260,380 1260,480"/>
</g>
</g>

<!-- frames & ticks for a,b,c -->
<g fill="none" stroke="#000" stroke-width="4.5">
<rect x="146" y="12" width="1441" height="452"/>
<rect x="146" y="533" width="1441" height="453"/>
<rect x="146" y="1053" width="1441" height="453"/>
</g>
<use xlink:href="#mt" transform="translate(0,12)"/>
<use xlink:href="#mt" transform="translate(0,464) scale(1,-1)"/>
<use xlink:href="#mt" transform="translate(0,533)"/>
<use xlink:href="#mt" transform="translate(0,986) scale(1,-1)"/>
<use xlink:href="#mt" transform="translate(0,1053)"/>
<use xlink:href="#mt" transform="translate(0,1506) scale(1,-1)"/>
<use xlink:href="#dt" transform="translate(146,12) scale(1,0.999)"/>
<use xlink:href="#dt" transform="translate(1587,12) scale(-1,0.999)"/>
<use xlink:href="#dt" transform="translate(146,533)"/>
<use xlink:href="#dt" transform="translate(1587,533) scale(-1,1)"/>
<use xlink:href="#dt" transform="translate(146,1053)"/>
<use xlink:href="#dt" transform="translate(1587,1053) scale(-1,1)"/>

<!-- y tick labels -->
<g font-size="31" font-weight="bold" text-anchor="end">
<text x="129" y="22.5" textLength="15" lengthAdjust="spacingAndGlyphs">0</text>
<text x="129" y="113" textLength="58" lengthAdjust="spacingAndGlyphs">200</text>
<text x="129" y="203" textLength="58" lengthAdjust="spacingAndGlyphs">400</text>
<text x="129" y="294" textLength="58" lengthAdjust="spacingAndGlyphs">600</text>
<text x="129" y="384" textLength="58" lengthAdjust="spacingAndGlyphs">800</text>
<text x="129" y="474.5" textLength="74" lengthAdjust="spacingAndGlyphs">1000</text>
<text x="129" y="543.5" textLength="15" lengthAdjust="spacingAndGlyphs">0</text>
<text x="129" y="634" textLength="58" lengthAdjust="spacingAndGlyphs">200</text>
<text x="129" y="725" textLength="58" lengthAdjust="spacingAndGlyphs">400</text>
<text x="129" y="815" textLength="58" lengthAdjust="spacingAndGlyphs">600</text>
<text x="129" y="906" textLength="58" lengthAdjust="spacingAndGlyphs">800</text>
<text x="129" y="996.5" textLength="74" lengthAdjust="spacingAndGlyphs">1000</text>
<text x="129" y="1063.5" textLength="15" lengthAdjust="spacingAndGlyphs">0</text>
<text x="129" y="1154" textLength="58" lengthAdjust="spacingAndGlyphs">200</text>
<text x="129" y="1245" textLength="58" lengthAdjust="spacingAndGlyphs">400</text>
<text x="129" y="1335" textLength="58" lengthAdjust="spacingAndGlyphs">600</text>
<text x="129" y="1426" textLength="58" lengthAdjust="spacingAndGlyphs">800</text>
<text x="129" y="1516.5" textLength="74" lengthAdjust="spacingAndGlyphs">1000</text>
</g>
<g font-weight="bold" text-anchor="middle">
<text transform="translate(36,238) rotate(-90)" font-size="29" textLength="163" lengthAdjust="spacingAndGlyphs">DEPTH (m)</text>
<text transform="translate(29,759) rotate(-90)" font-size="31" textLength="172" lengthAdjust="spacingAndGlyphs">DEPTH (m)</text>
<text transform="translate(30,1280) rotate(-90)" font-size="31" textLength="171" lengthAdjust="spacingAndGlyphs">DEPTH (m)</text>
</g>
<g font-size="54">
<text x="51" y="58" textLength="61" lengthAdjust="spacingAndGlyphs">(a)</text>
<text x="46" y="578" textLength="65" lengthAdjust="spacingAndGlyphs">(b)</text>
<text x="46" y="1090" textLength="64" lengthAdjust="spacingAndGlyphs">(c)</text>
</g>
<g font-size="51">
<text x="633" y="507" textLength="279" lengthAdjust="spacingAndGlyphs">ARGO TEMP</text>
<text x="650" y="1030" textLength="344" lengthAdjust="spacingAndGlyphs">HYCOM TEMP</text>
<text x="541" y="1656" font-size="50" textLength="558" lengthAdjust="spacingAndGlyphs">HYCOM−ARGO (TEMP)</text>
</g>

<!-- month labels -->
<g font-size="39" font-weight="bold" text-anchor="middle">
<text transform="translate(161.1,1542) scale(0.75,1)">N</text>
<text transform="translate(191.9,1542) scale(0.75,1)">D</text>
<text transform="translate(223.1,1542) scale(0.75,1)">J</text>
<text transform="translate(252.8,1542) scale(0.75,1)">F</text>
<text transform="translate(282.6,1542) scale(0.75,1)">M</text>
<text transform="translate(313.3,1542) scale(0.75,1)">A</text>
<text transform="translate(344,1542) scale(0.75,1)">M</text>
<text transform="translate(374.8,1542) scale(0.75,1)">J</text>
<text transform="translate(405.5,1542) scale(0.75,1)">J</text>
<text transform="translate(436.7,1542) scale(0.75,1)">A</text>
<text transform="translate(467.5,1542) scale(0.75,1)">S</text>
<text transform="translate(498.2,1542) scale(0.75,1)">O</text>
<text transform="translate(528.9,1542) scale(0.75,1)">N</text>
<text transform="translate(559.7,1542) scale(0.75,1)">D</text>
<text transform="translate(590.9,1542) scale(0.75,1)">J</text>
<text transform="translate(620.6,1542) scale(0.75,1)">F</text>
<text transform="translate(650.4,1542) scale(0.75,1)">M</text>
<text transform="translate(681.1,1542) scale(0.75,1)">A</text>
<text transform="translate(711.8,1542) scale(0.75,1)">M</text>
<text transform="translate(742.6,1542) scale(0.75,1)">J</text>
<text transform="translate(773.3,1542) scale(0.75,1)">J</text>
<text transform="translate(804.6,1542) scale(0.75,1)">A</text>
<text transform="translate(835.3,1542) scale(0.75,1)">S</text>
<text transform="translate(866,1542) scale(0.75,1)">O</text>
<text transform="translate(896.8,1542) scale(0.75,1)">N</text>
<text transform="translate(927.5,1542) scale(0.75,1)">D</text>
<text transform="translate(958.7,1542) scale(0.75,1)">J</text>
<text transform="translate(988.4,1542) scale(0.75,1)">F</text>
<text transform="translate(1018.2,1542) scale(0.75,1)">M</text>
<text transform="translate(1048.9,1542) scale(0.75,1)">A</text>
<text transform="translate(1079.7,1542) scale(0.75,1)">M</text>
<text transform="translate(1110.4,1542) scale(0.75,1)">J</text>
<text transform="translate(1141.1,1542) scale(0.75,1)">J</text>
<text transform="translate(1172.4,1542) scale(0.75,1)">A</text>
<text transform="translate(1203.1,1542) scale(0.75,1)">S</text>
<text transform="translate(1233.8,1542) scale(0.75,1)">O</text>
<text transform="translate(1264.6,1542) scale(0.75,1)">N</text>
<text transform="translate(1295.3,1542) scale(0.75,1)">D</text>
<text transform="translate(1326.6,1542) scale(0.75,1)">J</text>
<text transform="translate(1356.8,1542) scale(0.75,1)">F</text>
<text transform="translate(1387,1542) scale(0.75,1)">M</text>
<text transform="translate(1417.8,1542) scale(0.75,1)">A</text>
<text transform="translate(1448.5,1542) scale(0.75,1)">M</text>
<text transform="translate(1479.3,1542) scale(0.75,1)">J</text>
<text transform="translate(1510,1542) scale(0.75,1)">J</text>
<text transform="translate(1541.2,1542) scale(0.75,1)">A</text>
<text transform="translate(1572,1542) scale(0.75,1)">S</text>
</g>
<g font-size="47" font-weight="bold" text-anchor="middle">
<text x="391" y="1601" textLength="120" lengthAdjust="spacingAndGlyphs">2005</text>
<text x="759" y="1601" textLength="120" lengthAdjust="spacingAndGlyphs">2006</text>
<text x="1125" y="1601" textLength="120" lengthAdjust="spacingAndGlyphs">2007</text>
<text x="1447" y="1601" textLength="120" lengthAdjust="spacingAndGlyphs">2008</text>
</g>

<!-- colorbar 1 -->
<g stroke="#000" stroke-width="2.5">
<polygon points="1604,70 1638,70 1621,8" fill="#990000"/>
<rect x="1604" y="70" width="34" height="57.2" fill="#d40000"/>
<rect x="1604" y="127.2" width="34" height="57.2" fill="#ff2000"/>
<rect x="1604" y="184.4" width="34" height="57.2" fill="#ff6000"/>
<rect x="1604" y="241.6" width="34" height="57.2" fill="#ffa000"/>
<rect x="1604" y="298.8" width="34" height="57.2" fill="#ffe000"/>
<rect x="1604" y="356" width="34" height="57.2" fill="#e4f40a"/>
<rect x="1604" y="413.2" width="34" height="57.2" fill="#b6e21a"/>
<rect x="1604" y="470.4" width="34" height="57.2" fill="#84cc22"/>
<rect x="1604" y="527.6" width="34" height="57.2" fill="#55b835"/>
<rect x="1604" y="584.8" width="34" height="57.2" fill="#25a542"/>
<rect x="1604" y="642" width="34" height="57.2" fill="#06905a"/>
<rect x="1604" y="699.2" width="34" height="57.2" fill="#1b7589"/>
<rect x="1604" y="756.4" width="34" height="57.2" fill="#2f5aba"/>
<rect x="1604" y="813.6" width="34" height="57.2" fill="#4444ee"/>
<rect x="1604" y="870.8" width="34" height="57.2" fill="#7a22ff"/>
<polygon points="1604,928 1638,928 1621,985" fill="#cc00ff"/>
</g>
<g font-size="29" font-weight="bold" text-anchor="end">
<text x="1712" y="137.2" textLength="66" lengthAdjust="spacingAndGlyphs">30.0</text>
<text x="1712" y="251.6" textLength="66" lengthAdjust="spacingAndGlyphs">26.0</text>
<text x="1712" y="366" textLength="66" lengthAdjust="spacingAndGlyphs">22.0</text>
<text x="1712" y="480.4" textLength="66" lengthAdjust="spacingAndGlyphs">18.0</text>
<text x="1712" y="594.8" textLength="66" lengthAdjust="spacingAndGlyphs">14.0</text>
<text x="1712" y="709.2" textLength="66" lengthAdjust="spacingAndGlyphs">10.0</text>
<text x="1710" y="823.6" textLength="48" lengthAdjust="spacingAndGlyphs">6.0</text>
<text x="1710" y="938" textLength="48" lengthAdjust="spacingAndGlyphs">2.0</text>
</g>

<!-- colorbar 2 -->
<g stroke="#000" stroke-width="2.5">
<polygon points="1604,1084.7 1638,1084.7 1621,1052" fill="#990000"/>
<rect x="1604" y="1084.7" width="34" height="32.5" fill="#e60000"/>
<rect x="1604" y="1117.2" width="34" height="32.5" fill="#ff4000"/>
<rect x="1604" y="1149.7" width="34" height="32.4" fill="#ff8c00"/>
<rect x="1604" y="1182.1" width="34" height="32.5" fill="#ffdd00"/>
<rect x="1604" y="1214.6" width="34" height="32.5" fill="#dcf010"/>
<rect x="1604" y="1247.1" width="34" height="32.5" fill="#a8d820"/>
<rect x="1604" y="1279.6" width="34" height="32.5" fill="#6cc030"/>
<rect x="1604" y="1312.1" width="34" height="32.4" fill="#2ca540"/>
<rect x="1604" y="1344.5" width="34" height="32.5" fill="#088a5c"/>
<rect x="1604" y="1377" width="34" height="32.5" fill="#1f6e98"/>
<rect x="1604" y="1409.5" width="34" height="32.5" fill="#3a4ed0"/>
<rect x="1604" y="1442" width="34" height="32.5" fill="#7a2cff"/>
<polygon points="1604,1474.5 1638,1474.5 1621,1506" fill="#cc00ff"/>
</g>
<g font-size="29" font-weight="bold">
<text x="1645" y="1094.7" textLength="46" lengthAdjust="spacingAndGlyphs">3.0</text>
<text x="1645" y="1192" textLength="46" lengthAdjust="spacingAndGlyphs">1.5</text>
<text x="1645" y="1289.5" textLength="46" lengthAdjust="spacingAndGlyphs">0.0</text>
<text x="1645" y="1387" textLength="70" lengthAdjust="spacingAndGlyphs">−1.5</text>
<text x="1645" y="1484.5" textLength="70" lengthAdjust="spacingAndGlyphs">−3.0</text>
</g>

<!-- ========== PANEL D ========== -->
<path fill="none" stroke="#000" stroke-width="2.5" stroke-dasharray="4 6" d="M1825 57.2H2306M1825 102.4H2306M1825 147.6H2306M1825 192.8H2306M1825 238H2306M1825 283.2H2306M1825 328.4H2306M1825 373.6H2306M1825 418.8H2306M1856.3 12V464M1887.5 12V464M1918.8 12V464M1950 12V464M1981.3 12V464M2012.5 12V464M2043.8 12V464M2075 12V464M2106.3 12V464M2137.5 12V464M2168.8 12V464M2200 12V464M2231.3 12V464M2262.5 12V464M2293.8 12V464"/>
<path fill="none" stroke="#000" stroke-width="3.5" d="M1825 57.2h9M1825 102.4h9M1825 147.6h9M1825 192.8h9M1825 238h9M1825 283.2h9M1825 328.4h9M1825 373.6h9M1825 418.8h9M2306 57.2h-9M2306 102.4h-9M2306 147.6h-9M2306 192.8h-9M2306 238h-9M2306 283.2h-9M2306 328.4h-9M2306 373.6h-9M2306 418.8h-9M1856.3 12v9M1887.5 12v9M1918.8 12v9M1950 12v9M1981.3 12v9M2012.5 12v9M2043.8 12v9M2075 12v9M2106.3 12v9M2137.5 12v9M2168.8 12v9M2200 12v9M2231.3 12v9M2262.5 12v9M2293.8 12v9M1856.3 464v-9M1887.5 464v-9M1918.8 464v-9M1950 464v-9M1981.3 464v-9M2012.5 464v-9M2043.8 464v-9M2075 464v-9M2106.3 464v-9M2137.5 464v-9M2168.8 464v-9M2200 464v-9M2231.3 464v-9M2262.5 464v-9M2293.8 464v-9"/>
<polyline fill="none" stroke="#000" stroke-width="6" stroke-linejoin="round" points="2190,16.6 2187.5,31.5 2165,44.8 2150,53 2130,69.7 2100,97.8 2070,126 2040,149.3 1995,190.7 1957.5,235.5 1930,278.6 1912.5,318.4 1897.5,368.2 1890,416.3"/>
<polyline fill="none" stroke="#ff0000" stroke-width="6" stroke-linejoin="round" points="2197.5,16.6 2197.5,28.2 2190,36.5 2162.5,53 2150,59.7 2125,76.3 2095,99.5 2065,122.7 2040,142.6 2005,169.2 1980,190.7 1950,232.2 1920,288.6 1900,328.4 1890,371.5 1884,416.3"/>
<rect x="1825" y="12" width="481" height="452" fill="none" stroke="#000" stroke-width="4.5"/>
<g font-size="22" font-weight="bold">
<text x="2062" y="422" textLength="168" lengthAdjust="spacingAndGlyphs">ARGO_mean_T</text>
<text x="2042" y="447" textLength="188" lengthAdjust="spacingAndGlyphs">HYCOM_mean_T</text>
</g>
<path d="M2245 414.6H2292" stroke="#ff0000" stroke-width="7"/>
<path d="M2245 439.5H2292" stroke="#000" stroke-width="7"/>
<g font-size="27" font-weight="bold" text-anchor="middle">
<text x="1826" y="494" textLength="38" lengthAdjust="spacingAndGlyphs">2.0</text>
<text x="1887.5" y="494" textLength="38" lengthAdjust="spacingAndGlyphs">6.0</text>
<text x="1950" y="494" textLength="52" lengthAdjust="spacingAndGlyphs">10.0</text>
<text x="2012.5" y="494" textLength="52" lengthAdjust="spacingAndGlyphs">14.0</text>
<text x="2075" y="494" textLength="52" lengthAdjust="spacingAndGlyphs">18.0</text>
<text x="2137.5" y="494" textLength="52" lengthAdjust="spacingAndGlyphs">22.0</text>
<text x="2200" y="494" textLength="52" lengthAdjust="spacingAndGlyphs">26.0</text>
<text x="2262.5" y="494" textLength="52" lengthAdjust="spacingAndGlyphs">30.0</text>
</g>
<text x="1760" y="75" font-size="42" textLength="52" lengthAdjust="spacingAndGlyphs">(d)</text>

<!-- ========== PANEL E ========== -->
<path fill="none" stroke="#000" stroke-width="2.5" stroke-dasharray="4 6" d="M1825 578.3H2306M1825 623.6H2306M1825 668.9H2306M1825 714.2H2306M1825 759.5H2306M1825 804.8H2306M1825 850.1H2306M1825 895.4H2306M1825 940.7H2306M1859.4 533V986M1893.7 533V986M1928.1 533V986M1996.8 533V986M2031.1 533V986M2065.5 533V986M2099.9 533V986M2134.2 533V986M2168.6 533V986M2202.9 533V986M2237.3 533V986M2271.6 533V986"/>
<path d="M1962.4 533V986" stroke="#000" stroke-width="2.2"/>
<path fill="none" stroke="#000" stroke-width="3.5" d="M1825 578.3h9M1825 623.6h9M1825 668.9h9M1825 714.2h9M1825 759.5h9M1825 804.8h9M1825 850.1h9M1825 895.4h9M1825 940.7h9M2306 578.3h-9M2306 623.6h-9M2306 668.9h-9M2306 714.2h-9M2306 759.5h-9M2306 804.8h-9M2306 850.1h-9M2306 895.4h-9M2306 940.7h-9M1859.4 533v9M1893.7 533v9M1928.1 533v9M1962.4 533v9M1996.8 533v9M2031.1 533v9M2065.5 533v9M2099.9 533v9M2134.2 533v9M2168.6 533v9M2202.9 533v9M2237.3 533v9M2271.6 533v9M1859.4 986v-9M1893.7 986v-9M1928.1 986v-9M1962.4 986v-9M1996.8 986v-9M2031.1 986v-9M2065.5 986v-9M2099.9 986v-9M2134.2 986v-9M2168.6 986v-9M2202.9 986v-9M2237.3 986v-9M2271.6 986v-9"/>
<polyline fill="none" stroke="#ff0000" stroke-width="5.5" stroke-linejoin="round" points="2061,537.1 2060,551.4 2055,555 2035,563.9 2022.5,572.9 2012.5,587.1 2017.5,603.2 2032.5,622.9 2034,644.3 2031,667.5 2015,694.3 2010,712.1 1992.5,758.6 1995,805 1981,851.4 1972.5,894.3 1969,940.7"/>
<polyline fill="none" stroke="#000" stroke-width="5.5" stroke-linejoin="round" points="2052.5,537.1 2050,544.3 2027.5,555 2007.5,565 2012.5,580 2000,594.3 1995,603.2 1995,622.9 2005,640.7 2012.5,667.5 2012.5,694.3 2012.5,712.1 2002.5,737.1 1990,758.6 1991,801.4 1982.5,851.4 1975,894.3 1970,940.7"/>
<polyline fill="none" stroke="#00ee00" stroke-width="5.5" stroke-linejoin="round" points="1999,537.1 2005,546.1 2017.5,555 2030,565 2027.5,576.4 2012.5,601.4 2022.5,622.9 2015,644.3 2017.5,667.5 2007.5,694.3 1997.5,722.9 1987.5,758.6 1984,801.4 1980,851.4 1977.5,894.3 1975,940.7"/>
<rect x="1825" y="533" width="481" height="453" fill="none" stroke="#000" stroke-width="4.5"/>
<g font-size="22" font-weight="bold">
<text x="2107" y="914" textLength="120" lengthAdjust="spacingAndGlyphs">RMS_DIFF</text>
<text x="2087" y="941" textLength="140" lengthAdjust="spacingAndGlyphs">ARGO_STDV</text>
<text x="2067" y="968" textLength="160" lengthAdjust="spacingAndGlyphs">HYCOM_STDV</text>
</g>
<path d="M2242 906.8H2292" stroke="#00ee00" stroke-width="7"/>
<path d="M2242 933.6H2292" stroke="#ff0000" stroke-width="7"/>
<path d="M2242 960.4H2292" stroke="#000" stroke-width="7"/>
<g font-size="27" font-weight="bold" text-anchor="middle">
<text x="1826" y="1016" textLength="58" lengthAdjust="spacingAndGlyphs">−2.0</text>
<text x="1893.7" y="1016" textLength="58" lengthAdjust="spacingAndGlyphs">−1.0</text>
<text x="1962.4" y="1016" textLength="40" lengthAdjust="spacingAndGlyphs">0.0</text>
<text x="2031.1" y="1016" textLength="40" lengthAdjust="spacingAndGlyphs">1.0</text>
<text x="2099.9" y="1016" textLength="40" lengthAdjust="spacingAndGlyphs">2.0</text>
<text x="2168.6" y="1016" textLength="40" lengthAdjust="spacingAndGlyphs">3.0</text>
<text x="2237.3" y="1016" textLength="40" lengthAdjust="spacingAndGlyphs">4.0</text>
<text x="2306" y="1016" textLength="40" lengthAdjust="spacingAndGlyphs">5.0</text>
</g>
<text x="1760" y="568" font-size="42" textLength="52" lengthAdjust="spacingAndGlyphs">(e)</text>

<!-- ========== PANEL F ========== -->
<path fill="none" stroke="#000" stroke-width="2.5" stroke-dasharray="4 6" d="M1825 1098.3H2306M1825 1143.6H2306M1825 1188.9H2306M1825 1234.2H2306M1825 1279.5H2306M1825 1324.8H2306M1825 1370.1H2306M1825 1415.4H2306M1825 1460.7H2306M1873.1 1053V1506M1921.2 1053V1506M1969.3 1053V1506M2017.4 1053V1506M2065.5 1053V1506M2113.6 1053V1506M2161.7 1053V1506M2209.8 1053V1506M2257.9 1053V1506"/>
<path fill="none" stroke="#000" stroke-width="3.5" d="M1825 1098.3h9M1825 1143.6h9M1825 1188.9h9M1825 1234.2h9M1825 1279.5h9M1825 1324.8h9M1825 1370.1h9M1825 1415.4h9M1825 1460.7h9M2306 1098.3h-9M2306 1143.6h-9M2306 1188.9h-9M2306 1234.2h-9M2306 1279.5h-9M2306 1324.8h-9M2306 1370.1h-9M2306 1415.4h-9M2306 1460.7h-9M1873.1 1053v9M1921.2 1053v9M1969.3 1053v9M2017.4 1053v9M2065.5 1053v9M2113.6 1053v9M2161.7 1053v9M2209.8 1053v9M2257.9 1053v9M1873.1 1506v-9M1921.2 1506v-9M1969.3 1506v-9M2017.4 1506v-9M2065.5 1506v-9M2113.6 1506v-9M2161.7 1506v-9M2209.8 1506v-9M2257.9 1506v-9"/>
<polyline fill="none" stroke="#000" stroke-width="6" stroke-linejoin="round" points="2272.5,1058 2265,1066.5 2227.5,1074.8 2030,1086.4 1977.5,1096.3 1965,1109 2017.5,1122.9 2082.5,1142.8 2142.5,1166 2131,1189.2 2132.5,1234 2095,1278 2150,1323.5 2062.5,1368.3 1825,1401.5"/>
<rect x="1825" y="1053" width="481" height="453" fill="none" stroke="#000" stroke-width="4.5"/>
<text x="2065" y="1486" font-size="22" font-weight="bold" textLength="162" lengthAdjust="spacingAndGlyphs">CORRELATION</text>
<path d="M2242 1478H2292" stroke="#000" stroke-width="7"/>
<g font-size="27" font-weight="bold" text-anchor="middle">
<text x="1826" y="1538" textLength="55" lengthAdjust="spacingAndGlyphs">0.00</text>
<text x="1921.2" y="1538" textLength="55" lengthAdjust="spacingAndGlyphs">0.20</text>
<text x="2017.4" y="1538" textLength="55" lengthAdjust="spacingAndGlyphs">0.40</text>
<text x="2113.6" y="1538" textLength="55" lengthAdjust="spacingAndGlyphs">0.60</text>
<text x="2209.8" y="1538" textLength="55" lengthAdjust="spacingAndGlyphs">0.80</text>
<text x="2303" y="1538" textLength="55" lengthAdjust="spacingAndGlyphs">1.00</text>
</g>
<text x="1760" y="1093" font-size="42" textLength="52" lengthAdjust="spacingAndGlyphs">(f)</text>
</svg>
</body></html>
